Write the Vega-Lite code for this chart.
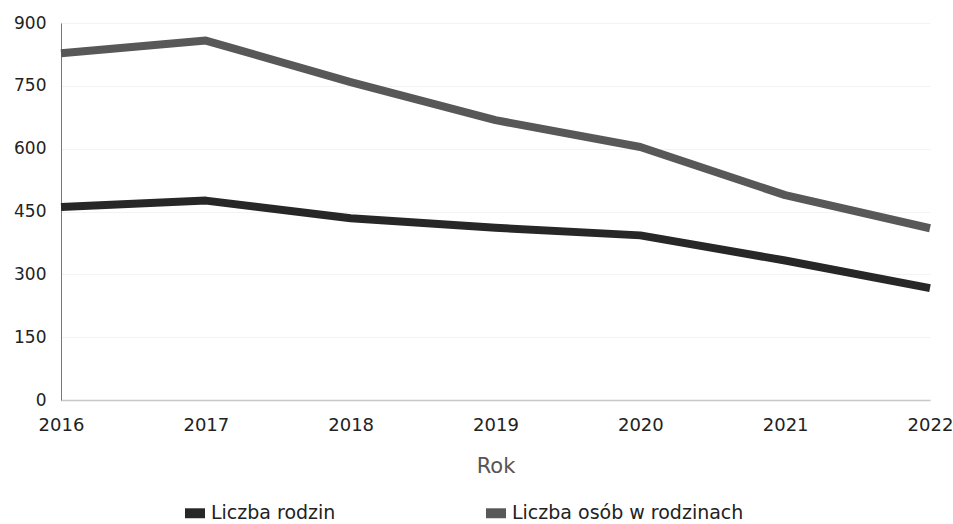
{
  "$schema": "https://vega.github.io/schema/vega-lite/v6.json",
  "width": 869,
  "height": 377,
  "autosize": {"type": "none"},
  "padding": {"left": 61, "top": 23, "right": 23, "bottom": 124},
  "background": "white",
  "data": {
    "values": [
      {"rok": "2016", "seria": "Liczba rodzin", "wartosc": 461},
      {"rok": "2017", "seria": "Liczba rodzin", "wartosc": 476},
      {"rok": "2018", "seria": "Liczba rodzin", "wartosc": 434},
      {"rok": "2019", "seria": "Liczba rodzin", "wartosc": 411},
      {"rok": "2020", "seria": "Liczba rodzin", "wartosc": 393},
      {"rok": "2021", "seria": "Liczba rodzin", "wartosc": 333},
      {"rok": "2022", "seria": "Liczba rodzin", "wartosc": 267},
      {"rok": "2016", "seria": "Liczba osób w rodzinach", "wartosc": 828},
      {"rok": "2017", "seria": "Liczba osób w rodzinach", "wartosc": 858},
      {"rok": "2018", "seria": "Liczba osób w rodzinach", "wartosc": 759},
      {"rok": "2019", "seria": "Liczba osób w rodzinach", "wartosc": 668},
      {"rok": "2020", "seria": "Liczba osób w rodzinach", "wartosc": 604},
      {"rok": "2021", "seria": "Liczba osób w rodzinach", "wartosc": 489},
      {"rok": "2022", "seria": "Liczba osób w rodzinach", "wartosc": 410}
    ]
  },
  "mark": {"type": "line", "strokeWidth": 8, "strokeCap": "butt", "strokeJoin": "round"},
  "encoding": {
    "x": {
      "field": "rok",
      "type": "ordinal",
      "scale": {"type": "point", "padding": 0},
      "axis": {
        "title": "Rok",
        "labelAngle": 0,
        "ticks": false,
        "labelFontSize": 18,
        "labelPadding": 16,
        "titlePadding": 21,
        "titleFontSize": 21,
        "grid": false,
        "domainColor": "#c8c8c8",
        "domainWidth": 1.5
      }
    },
    "y": {
      "field": "wartosc",
      "type": "quantitative",
      "scale": {"domain": [0, 900], "nice": false},
      "axis": {
        "title": null,
        "values": [0, 150, 300, 450, 600, 750, 900],
        "ticks": false,
        "labelFontSize": 17,
        "labelPadding": 15,
        "grid": true,
        "gridColor": "#f3f3f3",
        "domainColor": "#777777",
        "domainWidth": 1
      }
    },
    "color": {
      "field": "seria",
      "type": "nominal",
      "sort": ["Liczba rodzin", "Liczba osób w rodzinach"],
      "scale": {"domain": ["Liczba rodzin", "Liczba osób w rodzinach"], "range": ["#272727", "#585858"]},
      "legend": {
        "title": null,
        "orient": "none",
        "direction": "horizontal",
        "legendX": 124,
        "legendY": 480,
        "columnPadding": 142,
        "symbolType": "M-1,-0.33L1,-0.33L1,0.33L-1,0.33Z",
        "symbolSize": 225,
        "symbolStrokeWidth": 5,
        "labelFontSize": 19,
        "labelFont": "DejaVu Sans",
        "labelColor": "#222222",
        "labelOffset": 6,
        "labelLimit": 400
      }
    }
  },
  "config": {
    "view": {"stroke": null},
    "axis": {
      "labelFont": "DejaVu Sans",
      "labelColor": "#222222",
      "titleFont": "DejaVu Sans",
      "titleFontWeight": "normal",
      "titleColor": "#555555"
    }
  }
}
